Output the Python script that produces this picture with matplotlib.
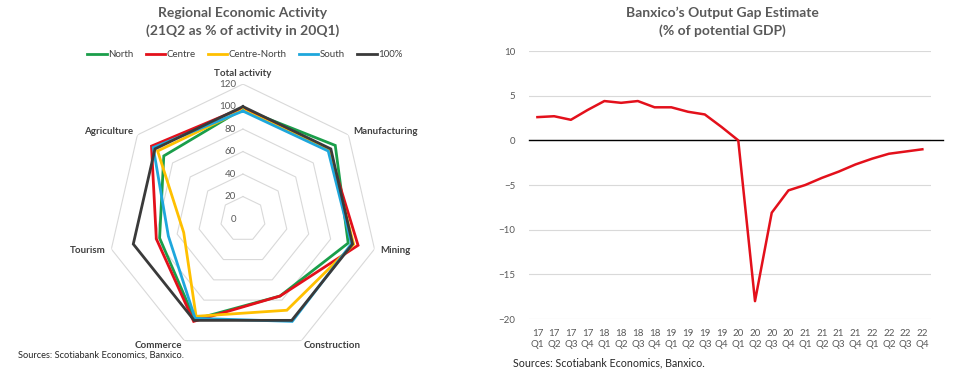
import matplotlib.pyplot as plt
import numpy as np

plt.rcParams['font.family'] = ['Lato', 'DejaVu Sans']

# --- left: regional activity radar (21Q2 as % of 20Q1) ---
sectors = ['Total activity', 'Manufacturing', 'Mining', 'Construction',
           'Commerce', 'Tourism', 'Agriculture']
north = [98, 105, 96, 76, 99, 76, 90]
centre = [99, 98, 105, 76, 101, 79, 104]
centre_north = [97, 98, 101, 90, 96, 54, 97]
south = [96, 97, 99, 101, 98, 68, 102]
ref100 = [100, 100, 100, 100, 100, 100, 100]
rings = [20, 40, 60, 80, 100, 120]
ring_labels = [0, 20, 40, 60, 80, 100, 120]

# --- right: output gap ---
quarters = ['17\nQ1', '17\nQ2', '17\nQ3', '17\nQ4', '18\nQ1', '18\nQ2', '18\nQ3', '18\nQ4',
            '19\nQ1', '19\nQ2', '19\nQ3', '19\nQ4', '20\nQ1', '20\nQ2', '20\nQ3', '20\nQ4',
            '21\nQ1', '21\nQ2', '21\nQ3', '21\nQ4', '22\nQ1', '22\nQ2', '22\nQ3', '22\nQ4']
gap = [2.6, 2.7, 2.3, 3.4, 4.4, 4.2, 4.4, 3.7, 3.7, 3.2, 2.9, 1.5,
       0.0, -18.0, -8.1, -5.6, -5.0, -4.2, -3.5, -2.7, -2.05, -1.5, -1.25, -1.0]

series = [('North', north, '#1a9e4a'), ('Centre', centre, '#e3101b'),
          ('Centre-North', centre_north, '#ffc000'), ('South', south, '#1ea7dc'),
          ('100%', ref100, '#3a3a3a')]

fig = plt.figure(figsize=(9.64, 3.70), dpi=100)

ax = fig.add_axes([0.112, 0.043, 0.280, 0.730], projection='polar')
ax.set_theta_offset(np.pi / 2)
ax.set_theta_direction(-1)
ax.set_ylim(0, 120)
ax.grid(False)
ax.spines['polar'].set_visible(False)
ax.set_xticks([])
ax.set_yticks([])

theta = np.linspace(0, 2 * np.pi, len(sectors), endpoint=False)
theta_c = np.append(theta, theta[0])
for r in rings:
    ax.plot(theta_c, [r] * len(theta_c), color='#d9d9d9', lw=0.8, zorder=1)

for name, vals, col in series:
    ax.plot(theta_c, vals + vals[:1], color=col, lw=2, label=name, zorder=3,
            solid_joinstyle='miter')

for v in ring_labels:
    ax.annotate(str(v), xy=(0, v), xytext=(-5, 0), textcoords='offset points',
                ha='right', va='center', fontsize=7, color='#595959')

aligns = [('center', 'bottom'), ('left', 'center'), ('left', 'center'), ('left', 'center'),
          ('right', 'center'), ('right', 'center'), ('right', 'center')]
for t, lab, (ha, va) in zip(theta, sectors, aligns):
    ax.text(t, 125, lab, ha=ha, va=va, fontsize=7, color='#404040', fontweight='bold')

fig.legend(*ax.get_legend_handles_labels(), loc='center', bbox_to_anchor=(0.254, 0.852),
           ncol=5, frameon=False, fontsize=7, handlelength=2.0, handletextpad=0.15,
           columnspacing=1.25, labelcolor='#404040')

fig.text(0.252, 0.965, 'Regional Economic Activity', ha='center', va='center',
         fontsize=10, fontweight='bold', color='#595959')
fig.text(0.252, 0.918, '(21Q2 as % of activity in 20Q1)', ha='center', va='center',
         fontsize=10, fontweight='bold', color='#595959')
fig.text(0.019, 0.040, 'Sources: Scotiabank Economics, Banxico.', ha='left', va='center',
         fontsize=6.7, color='#262626')

# --- right chart ---
ax2 = fig.add_axes([0.5488, 0.1378, 0.4167, 0.7243])
x = np.arange(len(quarters))
ax2.plot(x, gap, color='#e3101b', lw=1.8, zorder=3)
ax2.set_xlim(-0.5, len(quarters) - 0.5)
ax2.set_ylim(-20, 10)
ax2.set_yticks([-20, -15, -10, -5, 0, 5, 10])
ax2.set_xticks(x)
ax2.set_xticklabels(quarters, fontsize=7, color='#595959', linespacing=1.3)
ax2.tick_params(axis='y', labelsize=7, labelcolor='#595959', length=0, pad=10)
ax2.tick_params(axis='x', length=0, pad=7)
ax2.grid(axis='y', color='#d9d9d9', lw=0.8)
ax2.set_axisbelow(True)
for s in ax2.spines.values():
    s.set_visible(False)
ax2.axhline(0, xmin=0, xmax=1.03, color='black', lw=1, clip_on=False, zorder=2)

fig.text(0.749, 0.965, 'Banxico\u2019s Output Gap Estimate', ha='center', va='center',
         fontsize=10, fontweight='bold', color='#595959')
fig.text(0.749, 0.918, '(% of potential GDP)', ha='center', va='center',
         fontsize=10, fontweight='bold', color='#595959')
fig.text(0.532, 0.020, 'Sources: Scotiabank Economics, Banxico.', ha='left', va='center',
         fontsize=7.7, color='#262626')

fig.savefig('out.png', dpi=100, facecolor='white')
